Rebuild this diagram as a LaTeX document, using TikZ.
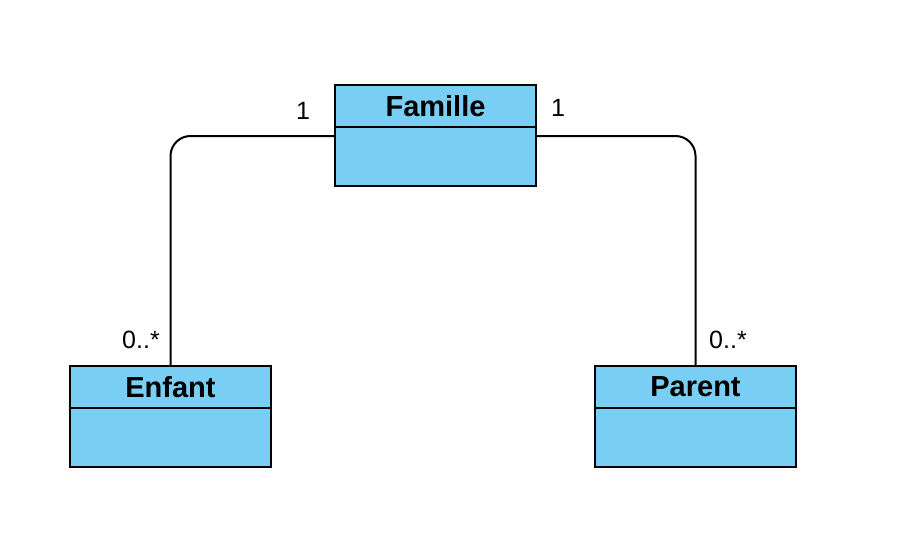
\documentclass[tikz,border=0pt]{standalone}
\usepackage{fontspec}
\setmainfont{Liberation Sans}
\usepackage{xcolor}
\usetikzlibrary{calc,positioning}
\definecolor{classfill}{HTML}{79CFF3}
\definecolor{ink}{HTML}{000000}
\tikzset{
  head/.style={draw=ink, fill=classfill, line width=2pt, minimum width=201pt, minimum height=42pt, inner sep=0pt, font=\fontsize{29}{32}\selectfont\bfseries},
  body/.style={draw=ink, fill=classfill, line width=2pt, minimum width=201pt, minimum height=59pt, inner sep=0pt},
  assoc/.style={draw=ink, line width=2pt, rounded corners=20pt},
  mult/.style={text=ink, inner sep=0pt, font=\fontsize{25}{28}\selectfont},
}
\begin{document}
\begin{tikzpicture}[x=1pt,y=-1pt]
  \useasboundingbox (0,0) rectangle (897,533);
  % classes
  \node[head] (famille) at (435.5,106) {Famille};
  \node[body, below=-2pt of famille] (famille-body) {};
  \node[head] (enfant) at (170.5,387) {Enfant};
  \node[body, below=-2pt of enfant] (enfant-body) {};
  \node[head] (parent) at (695.5,387) {Parent};
  \node[body, below=-2pt of parent] (parent-body) {};
  % associations
  \coordinate (famille-l) at ($(famille-body.north west)+(0,10)$);
  \coordinate (famille-r) at ($(famille-body.north east)+(0,10)$);
  \draw[assoc] (famille-l) -| (enfant.north);
  \draw[assoc] (famille-r) -| (parent.north);
  \node[mult] (m-fl) at (303,111) {1};
  \node[mult] (m-fr) at (558,108) {1};
  \node[mult] (m-e) at (141,340) {0..*};
  \node[mult] (m-p) at (728,340) {0..*};
\end{tikzpicture}
\end{document}
